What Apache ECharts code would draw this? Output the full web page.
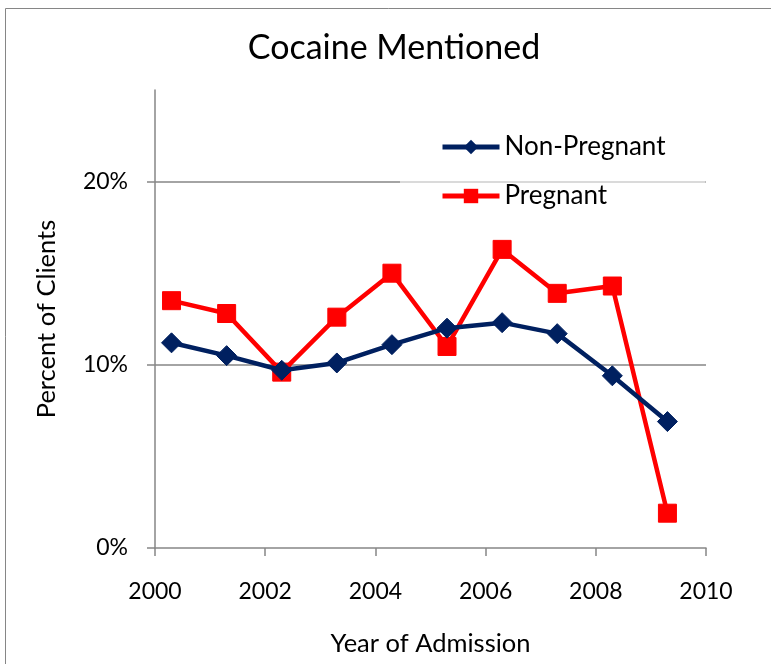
<!DOCTYPE html>
<html>
<head>
<meta charset="utf-8">
<script src="https://cdn.jsdelivr.net/npm/echarts@6/dist/echarts.min.js"></script>
<style>
  html, body { margin: 0; padding: 0; background: #fff; }
  #chart { width: 771px; height: 664px; }
</style>
</head>
<body>
<div id="chart"></div>
<script>
// Admission year positions (mid-year) and percent of clients with cocaine mentioned
const years = [2000.3, 2001.3, 2002.3, 2003.3, 2004.3, 2005.3, 2006.3, 2007.3, 2008.3, 2009.3];
const nonPregnant = [11.2, 10.5, 9.7, 10.1, 11.1, 12.0, 12.3, 11.7, 9.4, 6.9];
const pregnant = [13.5, 12.8, 9.6, 12.6, 15.0, 11.0, 16.3, 13.9, 14.3, 1.9];
const xTicks = [2000, 2002, 2004, 2006, 2008, 2010];
const yTicks = [0, 10, 20];

const FONT = 'Lato, "Open Sans", sans-serif';
const AXIS_GRAY = '#868686';

const pairs = (xs, ys) => xs.map((x, i) => [x, ys[i]]);

const chart = echarts.init(document.getElementById('chart'), null, { renderer: 'canvas' });

chart.setOption({
  backgroundColor: '#ffffff',
  animation: false,
  graphic: [{
    type: 'rect',
    shape: { x: 5.5, y: 8.5, width: 800, height: 700 },
    style: { fill: 'none', stroke: AXIS_GRAY, lineWidth: 1 },
    silent: true
  }],
  title: {
    text: 'Cocaine Mentioned',
    left: 389,
    textAlign: 'center',
    top: 26,
    textStyle: { fontFamily: FONT, fontSize: 34, fontWeight: 'normal', color: '#000' }
  },
  legend: {
    orient: 'vertical',
    left: 400,
    top: 131,
    padding: [3, 40, 3, 40],
    backgroundColor: 'rgba(255,255,255,0.6)',
    itemWidth: 57,
    itemHeight: 18,
    itemGap: 23,
    lineStyle: { width: 5 },
    textStyle: { fontFamily: FONT, fontSize: 26, color: '#000' },
    data: ['Non-Pregnant', 'Pregnant']
  },
  grid: { left: 155, right: 65, top: 90, bottom: 116, containLabel: false },
  xAxis: {
    type: 'value',
    min: 2000,
    max: 2010,
    interval: 2,
    name: 'Year of Admission',
    nameLocation: 'middle',
    nameGap: 83,
    nameTextStyle: { fontFamily: FONT, fontSize: 25.5, color: '#000' },
    axisLine: { show: true, lineStyle: { color: AXIS_GRAY, width: 1.5 } },
    axisTick: { show: true, length: 8, inside: false, lineStyle: { color: AXIS_GRAY, width: 1.5 } },
    axisLabel: {
      margin: 32,
      fontFamily: FONT, fontSize: 23, color: '#000',
      formatter: v => (xTicks.includes(v) ? String(v) : '')
    },
    splitLine: { show: false }
  },
  yAxis: {
    type: 'value',
    min: 0,
    max: 25,
    interval: 10,
    name: 'Percent of Clients',
    nameLocation: 'middle',
    nameGap: 95,
    nameTextStyle: { fontFamily: FONT, fontSize: 25.5, color: '#000' },
    axisLine: { show: true, lineStyle: { color: AXIS_GRAY, width: 1.5 } },
    axisTick: { show: true, length: 8, inside: false, lineStyle: { color: AXIS_GRAY, width: 1.5 },
      customValues: yTicks },
    axisLabel: {
      margin: 27,
      fontFamily: FONT, fontSize: 23, color: '#000',
      customValues: yTicks,
      formatter: v => v + '%'
    },
    splitLine: { show: true, showMinLine: false, lineStyle: { color: AXIS_GRAY, width: 1.5 } }
  },
  series: [
    {
      name: 'Non-Pregnant',
      type: 'line',
      data: pairs(years, nonPregnant),
      symbol: 'diamond',
      symbolSize: 20,
      lineStyle: { color: '#002060', width: 4.5 },
      itemStyle: { color: '#002060', borderColor: '#002060' },
      z: 3
    },
    {
      name: 'Pregnant',
      type: 'line',
      data: pairs(years, pregnant),
      symbol: 'rect',
      symbolSize: 18,
      lineStyle: { color: '#ff0000', width: 4.5 },
      itemStyle: { color: '#ff0000', borderColor: '#ff0000' },
      z: 2
    }
  ]
});
</script>
</body>
</html>
